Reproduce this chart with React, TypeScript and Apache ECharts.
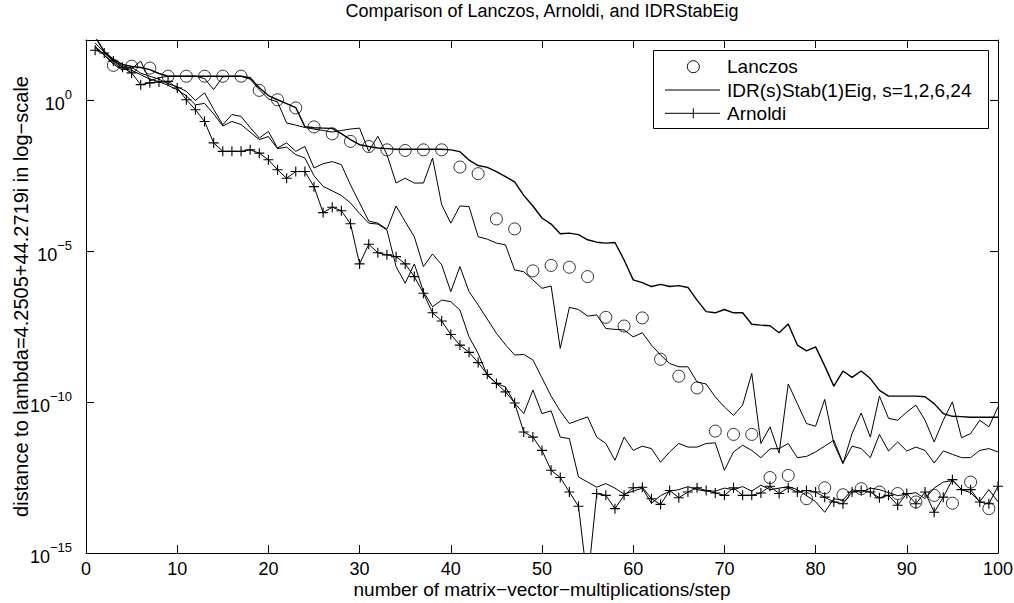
import React, { useEffect, useRef } from "react";
import * as echarts from "echarts";

// log10 of the distance, one value per matrix-vector multiplication (steps 1..100)
const arnoldiLog = [
  1.66, 1.57, 1.3, 1.1, 0.91, 0.52, 0.58, 0.61, 0.63, 0.41,
  0.02, -0.31, -0.7, -1.41, -1.69, -1.69, -1.69, -1.64, -1.75, -1.97,
  -2.3, -2.58, -2.36, -2.36, -2.86, -3.72, -3.54, -3.66, -4.09, -5.42,
  -4.77, -5.05, -5.12, -5.18, -5.42, -5.84, -6.39, -7.04, -7.31, -7.76,
  -8.11, -8.35, -8.69, -9.08, -9.38, -9.66, -10.03, -10.99, -11.16, -11.6,
  -12.26, -12.5, -12.98, -13.45, -16, -13.03, -13.09, -13.53, -13.09, -12.84,
  -12.82, -13.2, -13.39, -12.93, -13.17, -12.98, -12.84, -12.93, -13.01, -13.09,
  -12.84, -13.09, -13.09, -13.01, -12.79, -13.03, -12.84, -12.98, -12.93, -12.98,
  -13.15, -13.31, -13.37, -12.98, -12.93, -12.98, -13.17, -13.09, -13.42, -13.03,
  -13.37, -12.98, -13.65, -13.15, -12.57, -12.9, -12.9, -13.31, -13.37, -12.79,
];

const idrS1Log = [
  2.1, 1.62, 1.35, 1.19, 1.12, 1.09, 1.02, 0.89, 0.8, 0.8,
  0.8, 0.8, 0.8, 0.8, 0.8, 0.8, 0.8, 0.75, 0.42, 0.16,
  0.02, -0.11, -0.24, -0.87, -0.91, -0.92, -0.93, -1.1, -1.3, -1.47,
  -1.53, -1.58, -1.6, -1.62, -1.62, -1.62, -1.62, -1.62, -1.62, -1.64,
  -1.7, -1.98, -2.16, -2.22, -2.36, -2.53, -2.7, -3.15, -3.5, -3.9,
  -4.1, -4.42, -4.4, -4.45, -4.62, -4.7, -4.73, -4.71, -5.29, -5.95,
  -6.04, -6.17, -6.1, -6.17, -6.14, -6.2, -6.62, -7.0, -7.04, -6.93,
  -7.04, -7.04, -7.42, -7.45, -7.47, -7.7, -7.41, -8.11, -8.3, -8.17,
  -8.8, -9.47, -8.97, -9.18, -8.97, -9.22, -9.61, -9.8, -9.8, -9.8,
  -9.8, -9.82, -10.05, -10.38, -10.47, -10.48, -10.5, -10.5, -10.5, -10.5,
];

const idrS2Log = [
  1.9, 1.6, 1.3, 1.15, 1.05, 1.3, 0.65, 0.75, 0.8, 0.8,
  0.8, 0.8, 0.72, 0.36, 0.78, 0.8, 0.8, 0.7, 0.35, 0.05,
  -0.05, -0.75, -0.82, -0.9, -0.95, -1.0, -1.05, -1.0, -0.95, -0.92,
  -1.69, -1.19, -1.8, -2.74, -2.58, -2.74, -2.74, -1.91, -3.46, -4.07,
  -3.5, -3.52, -4.52, -4.6, -4.73, -4.79, -5.62, -5.68, -5.95, -6.23,
  -6.15, -8.22, -6.86, -6.93, -7.15, -7.11, -7.56, -7.59, -7.61, -7.84,
  -7.7, -8.11, -8.44, -8.72, -8.83, -8.83, -9.33, -9.4, -9.83, -10.16,
  -10.44, -10.1, -9.05, -11.37, -10.82, -11.69, -9.4, -10.05, -10.71, -10.8,
  -9.91, -11.37, -12.04, -11.04, -10.36, -11.16, -9.8, -10.54, -10.6, -10.33,
  -10.1, -10.6, -11.32, -10.6, -9.99, -11.18, -11.04, -10.6, -10.82, -10.16,
];

const idrS6Log = [
  1.8, 1.5, 1.2, 1.0, 1.1, 0.9, 0.8, 0.7, 0.55, 0.45,
  0.3, 0.0, 0.25, -0.3, -0.81, -0.47, -0.53, -0.9, -1.25, -1.03,
  -1.58, -1.41, -1.69, -1.53, -2.24, -2.1, -2.03, -2.13, -2.8, -3.4,
  -4.0, -4.07, -4.27, -3.5, -4.02, -4.52, -5.51, -5.09, -5.45, -6.34,
  -5.51, -6.34, -6.78, -7.25, -7.72, -8.1, -8.44, -8.42, -8.6, -9.2,
  -9.8, -10.3, -10.71, -10.6, -10.49, -11.16, -11.37, -11.93, -11.16, -11.6,
  -11.46, -11.54, -11.99, -11.65, -11.37, -11.49, -11.49, -11.37, -11.35, -12.26,
  -11.65, -11.43, -11.6, -11.84, -11.55, -11.54, -11.37, -11.84, -11.8, -11.65,
  -11.46, -11.26, -12.02, -11.46, -11.54, -11.84, -11.07, -11.62, -11.32, -11.62,
  -11.49, -11.6, -12.02, -11.62, -11.73, -11.84, -11.84, -11.6, -11.54, -11.65,
];

const idrS24Log = [
  1.75, 1.5, 1.25, 1.05, 1.0, 0.85, 0.7, 0.62, 0.5, 0.35,
  0.15, -0.15, -0.1, -0.45, -0.85, -0.7, -0.8, -1.05, -1.3, -1.2,
  -1.6, -1.55, -1.8, -1.91, -2.5, -2.85, -3.0, -3.15, -3.4, -3.75,
  -4.07, -4.1, -4.3, -5.51, -6.06, -5.42, -6.34, -6.84, -6.62, -6.67,
  -6.95, -7.84, -8.39, -9.11, -9.38, -9.5, -10.03, -10.38, -9.6, -10.38,
  -10.29, -11.16, -11.21, -12.48, -12.65, -12.82, -12.7, -12.85, -13.05, -12.95,
  -12.85, -13.35, -13.1, -12.95, -12.9, -12.8, -12.9, -12.95, -12.95, -12.85,
  -12.9, -12.8, -12.95, -12.75, -12.9, -12.85, -12.8, -12.9, -13.1, -13.3,
  -13.65, -13.2, -13.25, -12.9, -13.0, -12.85, -12.9, -13.0, -13.1, -13.05,
  -13.0, -13.2, -12.85, -12.65, -12.6, -12.9, -13.0, -13.3, -12.9, -13.3,
];

const lanczosSteps = [
  3, 5, 7, 9, 11, 13, 15, 17, 19, 21, 23, 25, 27, 29, 31, 33, 35, 37, 39, 41,
  43, 45, 47, 49, 51, 53, 55, 57, 59, 61, 63, 65, 67, 69, 71, 73, 75, 77, 79, 81,
  83, 85, 87, 89, 91, 93, 95, 97, 99,
];
const lanczosLog = [
  1.16, 1.13, 1.07, 0.8, 0.8, 0.8, 0.8, 0.8, 0.33, 0.02, -0.25, -0.88, -1.11, -1.36, -1.53, -1.64, -1.66, -1.64, -1.64, -2.21,
  -2.43, -3.93, -4.26, -5.65, -5.47, -5.53, -5.84, -7.19, -7.48, -7.21, -8.58, -9.14, -9.53, -10.96, -11.07, -11.07, -12.5, -12.43, -13.2, -12.84,
  -13.07, -12.87, -12.98, -13.03, -13.31, -13.09, -13.35, -12.65, -13.53,
];

const yTickExponents = [-15, -10, -5, 0];
const xTicks = [0, 10, 20, 30, 40, 50, 60, 70, 80, 90, 100];

const TITLE = "Comparison of Lanczos, Arnoldi, and IDRStabEig";
const X_NAME = "number of matrix\u2212vector\u2212multiplications/step";
const Y_NAME = "distance to lambda=4.2505+44.2719i in log\u2212scale";
const IDR_NAME = "IDR(s)Stab(1)Eig, s=1,2,6,24";

const FONT = "'Liberation Sans', Arial, Helvetica, sans-serif";

const toPoints = (arr: number[]) => arr.map((v, i) => [i + 1, v]);

export default function App() {
  const ref = useRef<HTMLDivElement>(null);

  useEffect(() => {
    if (!ref.current) return;
    const chart = echarts.init(ref.current, null, { renderer: "svg" });

    const axisLine = { show: true, onZero: false, lineStyle: { color: "#000", width: 1 } };
    const axisTick = { show: true, inside: true, length: 8, lineStyle: { color: "#000", width: 1 } };

    const idrSeries = [idrS1Log, idrS2Log, idrS6Log, idrS24Log].map((arr, k) => ({
      name: IDR_NAME,
      type: "line",
      data: toPoints(arr),
      showSymbol: false,
      lineStyle: { color: "#000", width: k === 0 ? 1.4 : 1 },
      itemStyle: { color: "#000" },
      clip: true,
      z: 2,
    }));

    const plus = "path://M0,5L10,5M5,0L5,10";

    chart.setOption({
      animation: false,
      backgroundColor: "#fff",
      textStyle: { fontFamily: FONT },
      title: {
        text: TITLE,
        left: 542,
        top: 2,
        padding: 0,
        textAlign: "center",
        textStyle: { fontSize: 18, fontWeight: "normal", color: "#000", fontFamily: FONT },
      },
      grid: { left: 86, right: 16, top: 40, bottom: 50, containLabel: false, outerBoundsMode: "none" },
      xAxis: [
        {
          type: "value",
          min: xTicks[0],
          max: xTicks[xTicks.length - 1],
          interval: 10,
          position: "bottom",
          axisLine,
          axisTick,
          splitLine: { show: false },
          axisLabel: { color: "#000", fontSize: 18, margin: 7, fontFamily: FONT },
          name: X_NAME,
          nameLocation: "middle",
          nameGap: 27,
          nameMoveOverlap: false,
          nameTextStyle: { color: "#000", fontSize: 19, fontFamily: FONT },
        },
        {
          type: "value",
          min: xTicks[0],
          max: xTicks[xTicks.length - 1],
          interval: 10,
          position: "top",
          axisLine,
          axisTick,
          splitLine: { show: false },
          axisLabel: { show: false },
        },
      ],
      yAxis: [
        {
          type: "value",
          min: yTickExponents[0],
          max: 2,
          interval: 5,
          position: "left",
          axisLine,
          axisTick,
          splitLine: { show: false },
          axisLabel: {
            margin: 14,
            formatter: (v: number) =>
              yTickExponents.includes(v)
                ? `{b|10}{s|${v < 0 ? "\u2212" + Math.abs(v) : v}}`
                : "",
            rich: {
              b: { fontSize: 18, lineHeight: 18, verticalAlign: "bottom", color: "#000", fontFamily: FONT },
              s: { fontSize: 13, padding: [0, 0, 12, 0], verticalAlign: "top", color: "#000", fontFamily: FONT },
            },
          },
          name: Y_NAME,
          nameLocation: "middle",
          nameGap: 55,
          nameMoveOverlap: false,
          nameRotate: 90,
          nameTextStyle: { color: "#000", fontSize: 20, fontFamily: FONT },
        },
        {
          type: "value",
          min: yTickExponents[0],
          max: 2,
          interval: 5,
          position: "right",
          axisLine,
          axisTick,
          splitLine: { show: false },
          axisLabel: { show: false },
        },
      ],
      series: [
        {
          name: "Lanczos",
          type: "scatter",
          data: lanczosSteps.map((s, i) => [s, lanczosLog[i]]),
          symbol: "circle",
          symbolSize: 12,
          itemStyle: { color: "none", borderColor: "#000", borderWidth: 1 },
          clip: true,
          z: 3,
        },
        ...idrSeries,
        {
          name: "Arnoldi",
          type: "line",
          data: toPoints(arnoldiLog),
          symbol: plus,
          symbolSize: 10,
          showSymbol: true,
          showAllSymbol: true,
          lineStyle: { color: "#000", width: 1 },
          itemStyle: { color: "none", borderColor: "#000", borderWidth: 1.1 },
          clip: true,
          z: 3,
        },
      ],
      graphic: [
        {
          type: "group",
          z: 100,
          children: [
            {
              type: "rect",
              shape: { x: 653.5, y: 50.5, width: 335, height: 78 },
              style: { fill: "#fff", stroke: "#000", lineWidth: 1 },
            },
            {
              type: "circle",
              shape: { cx: 693.3, cy: 66.7, r: 6 },
              style: { fill: "none", stroke: "#000", lineWidth: 1 },
            },
            {
              type: "line",
              shape: { x1: 665, y1: 90, x2: 720, y2: 90 },
              style: { stroke: "#000", lineWidth: 1 },
            },
            {
              type: "line",
              shape: { x1: 665, y1: 113.3, x2: 720, y2: 113.3 },
              style: { stroke: "#000", lineWidth: 1 },
            },
            {
              type: "line",
              shape: { x1: 693.3, y1: 108.3, x2: 693.3, y2: 118.3 },
              style: { stroke: "#000", lineWidth: 1 },
            },
            {
              type: "text",
              style: { text: "Lanczos", x: 727, y: 66.7, fontSize: 19, fontFamily: FONT, fill: "#000", verticalAlign: "middle" },
            },
            {
              type: "text",
              style: { text: IDR_NAME, x: 727, y: 90, fontSize: 19, fontFamily: FONT, fill: "#000", verticalAlign: "middle" },
            },
            {
              type: "text",
              style: { text: "Arnoldi", x: 727, y: 113.3, fontSize: 19, fontFamily: FONT, fill: "#000", verticalAlign: "middle" },
            },
          ],
        },
      ],
    });

    return () => chart.dispose();
  }, []);

  return (
    <div
      ref={ref}
      style={{ position: "absolute", left: 0, top: 0, width: 1014, height: 603, background: "#fff" }}
    />
  );
}
